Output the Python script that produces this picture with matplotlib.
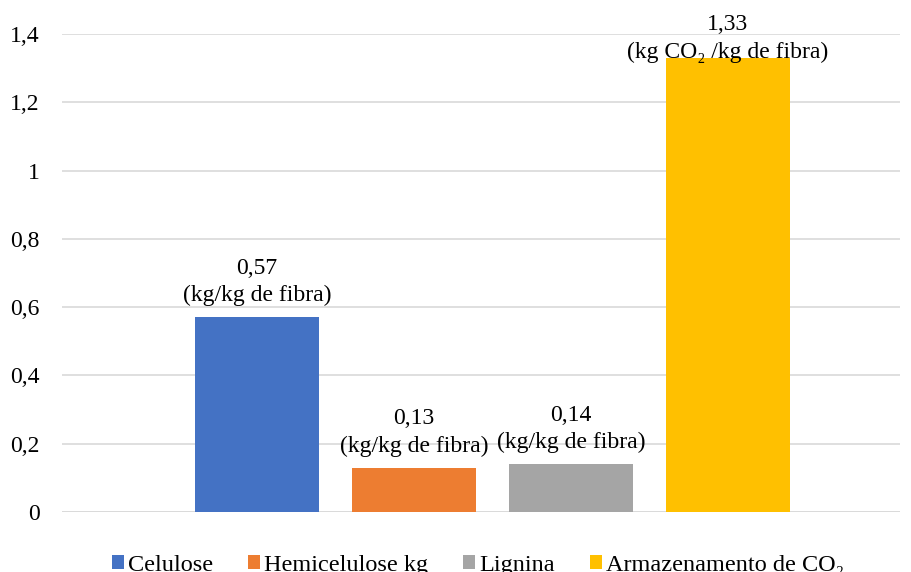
import matplotlib
matplotlib.use("Agg")
import matplotlib.pyplot as plt

series = ["Celulose", "Hemicelulose kg", "Lignina", "Armazenamento de CO₂"]
values = [0.57, 0.13, 0.14, 1.33]
value_labels = ["0,57", "0,13", "0,14", "1,33"]
unit_labels = ["(kg/kg de fibra)", "(kg/kg de fibra)", "(kg/kg de fibra)", "(kg CO₂ /kg de fibra)"]
yticks = [0, 0.2, 0.4, 0.6, 0.8, 1.0, 1.2, 1.4]
ytick_labels = ["0", "0,2", "0,4", "0,6", "0,8", "1", "1,2", "1,4"]
colors = ["#4472C4", "#ED7D31", "#A5A5A5", "#FFC000"]

plt.rcParams['font.family'] = ['Liberation Serif', 'DejaVu Serif']

fig = plt.figure(figsize=(9.12, 5.72), dpi=100)
ax = fig.add_axes([62/912, 1-512/572, 838/912, (512-34)/572])

handles = []
for i, (s, v) in enumerate(zip(series, values)):
    b = ax.bar(i, v, width=0.79, color=colors[i], label=s, zorder=3)
    handles.append(b)
    off = 8 if v < 1.3 else -3.5
    ax.annotate(value_labels[i] + "\n" + unit_labels[i], (i, v), xytext=(0, off),
                textcoords="offset points", ha="center", va="bottom",
                fontsize=17, linespacing=1.38, zorder=4)

ax.set_xlim(-1.242, 4.096)
ax.set_ylim(0, 1.4)
ax.set_yticks(yticks)
ax.set_yticklabels(ytick_labels, fontsize=17)
ax.set_xticks([])
ax.tick_params(axis='y', length=0, pad=16)
ax.grid(axis='y', color='#d9d9d9', linewidth=1.2, zorder=0)
for sp in ['top', 'right', 'left', 'bottom']:
    ax.spines[sp].set_visible(False)
ax.axhline(0, color='#d9d9d9', linewidth=1.2, zorder=1)

fig.legend(handles=handles, labels=series, loc='upper center',
           bbox_to_anchor=(478/912, 1-533/572), ncol=4, frameon=False,
           fontsize=17.5, handlelength=0.5, handleheight=0.5, handletextpad=0.15,
           columnspacing=1.45)

fig.savefig("out.png", dpi=100)
